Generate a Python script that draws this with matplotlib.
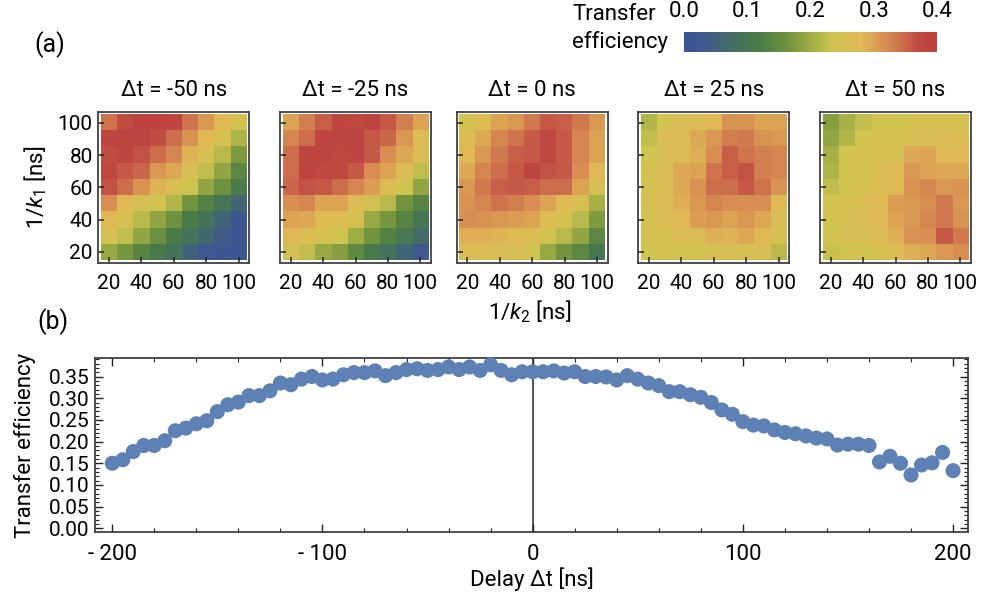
import numpy as np
import matplotlib
matplotlib.use("Agg")
import matplotlib.pyplot as plt
from matplotlib.colors import LinearSegmentedColormap
from matplotlib.ticker import MultipleLocator, FixedLocator

plt.rcParams['font.family'] = ['Roboto', 'DejaVu Sans']
plt.rcParams['mathtext.fontset'] = 'custom'
plt.rcParams['mathtext.rm'] = 'Roboto'
plt.rcParams['mathtext.it'] = 'Roboto:italic'

# ---------------- data ----------------
inv_k2 = [20, 30, 40, 50, 60, 70, 80, 90, 100]          # columns
inv_k1 = [100, 90, 80, 70, 60, 50, 40, 30, 20]          # rows, top to bottom
delays = [-50, -25, 0, 25, 50]

eff_m50 = [
    [0.340, 0.370, 0.390, 0.390, 0.380, 0.340, 0.310, 0.280, 0.245],
    [0.380, 0.385, 0.385, 0.370, 0.345, 0.315, 0.280, 0.250, 0.210],
    [0.370, 0.380, 0.365, 0.345, 0.325, 0.285, 0.255, 0.220, 0.175],
    [0.375, 0.360, 0.350, 0.310, 0.295, 0.255, 0.225, 0.190, 0.140],
    [0.365, 0.345, 0.315, 0.285, 0.255, 0.235, 0.190, 0.160, 0.115],
    [0.320, 0.280, 0.255, 0.240, 0.215, 0.165, 0.130, 0.095, 0.060],
    [0.280, 0.255, 0.220, 0.190, 0.160, 0.120, 0.090, 0.055, 0.020],
    [0.250, 0.225, 0.190, 0.155, 0.115, 0.090, 0.060, 0.040, 0.020],
    [0.195, 0.170, 0.135, 0.110, 0.090, 0.050, 0.025, 0.020, 0.015],
]
eff_m25 = [
    [0.300, 0.330, 0.355, 0.380, 0.375, 0.385, 0.360, 0.330, 0.300],
    [0.325, 0.345, 0.380, 0.385, 0.380, 0.360, 0.350, 0.310, 0.270],
    [0.345, 0.380, 0.385, 0.375, 0.380, 0.360, 0.320, 0.295, 0.265],
    [0.345, 0.385, 0.375, 0.375, 0.360, 0.320, 0.300, 0.265, 0.225],
    [0.350, 0.365, 0.360, 0.345, 0.325, 0.305, 0.270, 0.240, 0.190],
    [0.320, 0.325, 0.300, 0.300, 0.270, 0.245, 0.220, 0.165, 0.135],
    [0.300, 0.295, 0.270, 0.270, 0.250, 0.195, 0.170, 0.135, 0.100],
    [0.275, 0.260, 0.250, 0.240, 0.200, 0.165, 0.130, 0.105, 0.070],
    [0.245, 0.225, 0.195, 0.180, 0.145, 0.110, 0.085, 0.055, 0.030],
]
eff_0 = [
    [0.240, 0.270, 0.300, 0.310, 0.335, 0.360, 0.355, 0.335, 0.310],
    [0.265, 0.295, 0.325, 0.340, 0.360, 0.375, 0.360, 0.325, 0.300],
    [0.280, 0.310, 0.335, 0.355, 0.360, 0.375, 0.360, 0.325, 0.300],
    [0.295, 0.325, 0.345, 0.360, 0.380, 0.365, 0.360, 0.320, 0.280],
    [0.310, 0.335, 0.355, 0.360, 0.355, 0.345, 0.345, 0.300, 0.255],
    [0.315, 0.325, 0.340, 0.330, 0.320, 0.300, 0.275, 0.255, 0.205],
    [0.320, 0.315, 0.310, 0.305, 0.300, 0.270, 0.245, 0.220, 0.175],
    [0.290, 0.290, 0.285, 0.275, 0.265, 0.240, 0.220, 0.190, 0.140],
    [0.265, 0.265, 0.260, 0.255, 0.240, 0.195, 0.165, 0.140, 0.100],
]
eff_p25 = [
    [0.215, 0.240, 0.260, 0.265, 0.280, 0.315, 0.315, 0.300, 0.300],
    [0.225, 0.260, 0.265, 0.295, 0.310, 0.330, 0.335, 0.315, 0.310],
    [0.240, 0.260, 0.270, 0.290, 0.320, 0.355, 0.340, 0.330, 0.325],
    [0.245, 0.265, 0.295, 0.300, 0.340, 0.355, 0.365, 0.330, 0.325],
    [0.250, 0.270, 0.295, 0.315, 0.345, 0.345, 0.360, 0.340, 0.315],
    [0.250, 0.270, 0.290, 0.310, 0.325, 0.320, 0.320, 0.320, 0.270],
    [0.250, 0.265, 0.280, 0.305, 0.310, 0.300, 0.310, 0.295, 0.255],
    [0.245, 0.250, 0.265, 0.260, 0.290, 0.285, 0.295, 0.280, 0.250],
    [0.240, 0.240, 0.240, 0.245, 0.255, 0.255, 0.255, 0.255, 0.220],
]
eff_p50 = [
    [0.180, 0.205, 0.225, 0.240, 0.240, 0.250, 0.250, 0.250, 0.250],
    [0.190, 0.215, 0.240, 0.245, 0.250, 0.255, 0.260, 0.265, 0.265],
    [0.205, 0.240, 0.245, 0.250, 0.255, 0.295, 0.300, 0.275, 0.280],
    [0.210, 0.240, 0.245, 0.260, 0.275, 0.310, 0.300, 0.295, 0.295],
    [0.225, 0.240, 0.250, 0.270, 0.275, 0.315, 0.325, 0.310, 0.315],
    [0.240, 0.250, 0.265, 0.275, 0.305, 0.310, 0.320, 0.335, 0.310],
    [0.240, 0.250, 0.260, 0.275, 0.300, 0.310, 0.325, 0.335, 0.315],
    [0.240, 0.255, 0.255, 0.270, 0.290, 0.315, 0.320, 0.360, 0.335],
    [0.230, 0.240, 0.240, 0.250, 0.265, 0.290, 0.295, 0.310, 0.320],
]
panel_maps = [eff_m50, eff_m25, eff_0, eff_p25, eff_p50]

scan_delay = list(range(-200, 205, 5))
scan_eff = [
    0.150, 0.158, 0.177, 0.191, 0.191, 0.202, 0.225, 0.231, 0.241, 0.248,
    0.269, 0.285, 0.291, 0.306, 0.306, 0.317, 0.335, 0.331, 0.344, 0.350,
    0.342, 0.344, 0.354, 0.359, 0.359, 0.363, 0.352, 0.359, 0.366, 0.368,
    0.364, 0.366, 0.372, 0.366, 0.372, 0.364, 0.377, 0.364, 0.354, 0.361,
    0.361,
    0.361, 0.363, 0.358, 0.361, 0.350, 0.350, 0.349, 0.342, 0.352, 0.344,
    0.335, 0.329, 0.315, 0.315, 0.308, 0.302, 0.290, 0.273, 0.263, 0.246,
    0.238, 0.236, 0.227, 0.221, 0.218, 0.213, 0.208, 0.206, 0.192, 0.194,
    0.194, 0.191, 0.153, 0.166, 0.150, 0.123, 0.146, 0.151, 0.175, 0.133,
]

cbar_ticks = [0.0, 0.1, 0.2, 0.3, 0.4]
scan_xticks = [-200, -100, 0, 100, 200]
scan_xticklabels = ['- 200', '- 100', '0', '100', '200']

# ---------------- style ----------------
cmap = LinearSegmentedColormap.from_list('dark_rainbow', [
    (0.00, '#3c5696'), (0.08, '#40598e'), (0.16, '#446a6c'),
    (0.30, '#4a7d46'), (0.42, '#76963e'), (0.51, '#a4b046'),
    (0.59, '#cfc450'), (0.70, '#e0b955'), (0.80, '#d88e52'),
    (0.88, '#c9654a'), (0.93, '#c04a42'), (1.00, '#bd3f3e'),
])
vmin, vmax = 0.0, 0.4
frame_col = '#404040'
fs = 15      # tick labels
fl = 16      # titles and axis labels

W, H = 988, 594
fig = plt.figure(figsize=(W / 100, H / 100), dpi=100)


def px_axes(left, top, width, height):
    return fig.add_axes([left / W, 1 - (top + height) / H, width / W, height / H])


# ---------------- (a) heat maps ----------------
panel_lefts = [98.3, 280.0, 456.7, 638.3, 820.0]
step = inv_k2[1] - inv_k2[0]
ext = (inv_k2[0] - step / 2, inv_k2[-1] + step / 2,
       inv_k1[-1] - step / 2, inv_k1[0] + step / 2)
for i, (lx, dt, grid) in enumerate(zip(panel_lefts, delays, panel_maps)):
    ax = px_axes(lx, 112.3, 151, 150.3)
    ax.imshow(np.array(grid), cmap=cmap, vmin=vmin, vmax=vmax, origin='upper',
              extent=ext, interpolation='nearest', aspect='auto')
    ax.set_xlim(13.4, 106.6)
    ax.set_ylim(13.4, 106.6)
    ax.xaxis.set_major_locator(FixedLocator([20, 40, 60, 80, 100]))
    ax.yaxis.set_major_locator(FixedLocator([20, 40, 60, 80, 100]))
    ax.tick_params(direction='in', length=4, width=1.1, color='#222222',
                   labelsize=fs, top=False, right=False)
    ax.tick_params(axis='x', pad=8)
    ax.tick_params(axis='y', pad=4)
    if i > 0:
        ax.set_yticklabels([])
    for sp in ax.spines.values():
        sp.set_color(frame_col)
        sp.set_linewidth(1.3)
    fig.text((lx + 75.5) / W, 1 - 90 / H, f'Δt = {dt} ns', ha='center',
             va='center', fontsize=fl)
    if i == 0:
        ax.set_ylabel(r'1/$k_1$ [ns]', fontsize=fl, labelpad=6)

fig.text(530 / W, 1 - 312 / H, r'1/$k_2$ [ns]', ha='center', va='center', fontsize=fl)
fig.text(50 / W, 1 - 45 / H, '(a)', ha='center', va='center', fontsize=18)
fig.text(53 / W, 1 - 322 / H, '(b)', ha='center', va='center', fontsize=18)

# ---------------- colour bar ----------------
cax = px_axes(684, 32, 253, 20)
grad = np.linspace(vmin, vmax, 256).reshape(1, -1)
cax.imshow(grad, cmap=cmap, vmin=vmin, vmax=vmax, extent=(vmin, vmax, 0, 1),
           aspect='auto')
cax.set_xlim(vmin, vmax)
cax.set_yticks([])
cax.xaxis.set_ticks_position('top')
cax.set_xticks(cbar_ticks)
cax.set_xticklabels([f'{t:.1f}' for t in cbar_ticks])
cax.tick_params(axis='x', length=0, pad=7, labelsize=fl)
for sp in cax.spines.values():
    sp.set_visible(False)
fig.text(572 / W, 1 - 15 / H, 'Transfer', ha='left', va='center', fontsize=fl)
fig.text(572 / W, 1 - 42 / H, 'efficiency', ha='left', va='center', fontsize=fl)

# ---------------- (b) delay scan ----------------
bx = px_axes(95, 358.3, 873, 173.7)
bx.axvline(0, color='#555555', lw=1.4, zorder=1)
bx.scatter(scan_delay, scan_eff, s=118, color='#5e81b5', edgecolors='none',
           zorder=3, clip_on=False)
bx.set_xlim(-208.2, 207.1)
bx.set_ylim(-0.0085, 0.392)
bx.set_xticks(scan_xticks)
bx.set_xticklabels(scan_xticklabels)
bx.xaxis.set_minor_locator(MultipleLocator(20))
bx.yaxis.set_major_locator(FixedLocator([0.0, 0.05, 0.10, 0.15, 0.20, 0.25, 0.30, 0.35]))
bx.yaxis.set_major_formatter(plt.FuncFormatter(lambda v, p: f'{v:.2f}'))
bx.yaxis.set_minor_locator(MultipleLocator(0.01))
bx.tick_params(which='both', direction='in', top=True, right=True,
               color='#222222', labelsize=fs)
bx.tick_params(which='major', length=6, width=1.0)
bx.tick_params(which='minor', length=3, width=0.8)
bx.tick_params(axis='x', pad=9, labelsize=fl)
bx.tick_params(axis='y', pad=4)
for sp in bx.spines.values():
    sp.set_color(frame_col)
    sp.set_linewidth(1.3)
bx.set_xlabel('Delay Δt [ns]', fontsize=fl, labelpad=1)
bx.set_ylabel('Transfer efficiency', fontsize=fl, labelpad=9)

fig.savefig('out.png', dpi=100)
